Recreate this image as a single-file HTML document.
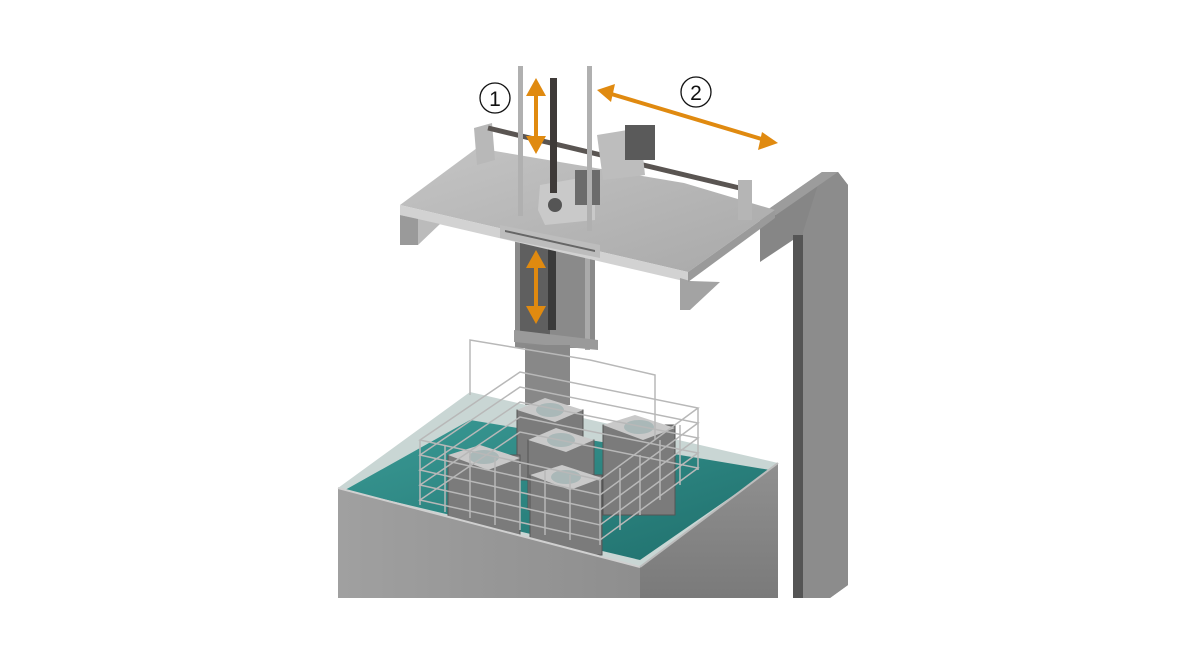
<!DOCTYPE html>
<html><head><meta charset="utf-8"><style>
html,body{margin:0;padding:0;background:#fff;}
svg{display:block;}
</style></head><body>
<svg width="1184" height="666" viewBox="0 0 1184 666" xmlns="http://www.w3.org/2000/svg" font-family="Liberation Sans, sans-serif">
<defs>
<linearGradient id="tf" x1="0" x2="1"><stop offset="0" stop-color="#a0a0a0"/><stop offset="1" stop-color="#8e8e8e"/></linearGradient>
<linearGradient id="rf" x1="0" x2="0" y1="0" y2="1"><stop offset="0" stop-color="#909090"/><stop offset="1" stop-color="#7a7a7a"/></linearGradient>
<linearGradient id="wt" x1="0" x2="1" y1="0" y2="1"><stop offset="0" stop-color="#3a9a95"/><stop offset="1" stop-color="#1f6f6c"/></linearGradient>
<linearGradient id="pl" x1="0" x2="1" y1="0" y2="1"><stop offset="0" stop-color="#c4c4c4"/><stop offset="1" stop-color="#a9a9a9"/></linearGradient>
</defs>
<!-- right frame -->
<polygon points="760,215 822,172 838,172 848,185 848,585 830,598 793,598 793,240 760,262" fill="#868686"/>
<polygon points="822,172 838,172 848,185 848,585 830,598 803,598 803,232" fill="#8c8c8c"/>
<rect x="793" y="235" width="10" height="363" fill="#555"/>
<polygon points="760,215 822,172 838,172 776,215" fill="#9c9c9c"/>
<!-- column -->
<rect x="515" y="230" width="80" height="118" fill="#8a8a8a"/>
<rect x="520" y="235" width="30" height="100" fill="#5f5f5f"/>
<rect x="548" y="235" width="8" height="95" fill="#3a3a3a"/>
<rect x="585" y="230" width="5" height="120" fill="#aaa"/>
<polygon points="514,330 598,340 598,350 514,342" fill="#9a9a9a"/>
<rect x="525" y="345" width="45" height="60" fill="#888"/>
<!-- platform -->
<polygon points="400,205 477,148 684,183 775,210 688,272" fill="url(#pl)"/>
<polygon points="400,205 688,272 688,282 400,215" fill="#d2d2d2"/>
<polygon points="400,215 418,219 418,245 400,245" fill="#9a9a9a"/>
<polygon points="418,219 440,224 418,245" fill="#bbb"/>
<polygon points="680,278 690,281 720,282 690,310 680,310" fill="#a3a3a3"/>
<polygon points="688,272 775,210 775,218 688,282" fill="#9a9a9a"/>
<polygon points="500,225 600,245 600,258 500,238" fill="#bdbdbd"/>
<polygon points="505,230 595,250 595,252 505,232" fill="#666"/>
<!-- back rail -->
<polygon points="474,128 492,123 495,160 477,165" fill="#b8b8b8"/>
<line x1="488" y1="128" x2="748" y2="190" stroke="#5a5552" stroke-width="5"/>
<rect x="738" y="180" width="14" height="40" fill="#b5b5b5"/>
<!-- carriage -->
<polygon points="540,185 580,178 595,190 595,220 545,225 538,210" fill="#c9c9c9"/>
<circle cx="555" cy="205" r="7" fill="#555"/>
<rect x="575" y="170" width="25" height="35" fill="#6b6b6b"/>
<polygon points="597,135 640,128 645,175 603,180" fill="#bdbdbd"/>
<rect x="625" y="125" width="30" height="35" fill="#5a5a5a"/>
<!-- rods -->
<rect x="518" y="66" width="5" height="150" fill="#b0b0b0"/>
<rect x="587" y="66" width="5" height="165" fill="#b0b0b0"/>
<rect x="550" y="78" width="7" height="115" fill="#3e3a38"/>
<!-- tank back/interior -->
<polygon points="338,488 470,392 778,463 640,567" fill="#c9d6d4"/>
<polygon points="345,490 470,420 770,470 640,560" fill="url(#wt)"/>
<!-- cylinders -->
<g fill="#7b7b7b" stroke="#555" stroke-width="1">
<rect x="517" y="410" width="66" height="70"/>
<rect x="528" y="440" width="66" height="70"/>
<rect x="603" y="425" width="72" height="90"/>
<rect x="448" y="455" width="72" height="90"/>
<rect x="530" y="475" width="72" height="80"/>
</g>
<g fill="#c9c9c9">
<polygon points="517,410 545,398 583,410 555,422"/>
<polygon points="528,440 556,428 594,440 566,452"/>
<polygon points="603,425 635,415 675,428 643,440"/>
<polygon points="448,455 480,445 520,458 488,470"/>
<polygon points="530,475 562,465 602,478 570,490"/>
</g>
<g fill="#aab8b8">
<ellipse cx="550" cy="410" rx="14" ry="7"/><ellipse cx="561" cy="440" rx="14" ry="7"/>
<ellipse cx="639" cy="427" rx="15" ry="7"/><ellipse cx="484" cy="457" rx="15" ry="7"/><ellipse cx="566" cy="477" rx="15" ry="7"/>
</g>
<!-- basket -->
<g fill="none" stroke="#b8b8b8" stroke-width="1.5">
<polyline points="470,395 470,340 590,360 655,375 655,440"/>
<polygon points="420,440 520,372 698,408 600,480"/>
<polygon points="420,455 520,387 698,423 600,495"/>
<polygon points="420,470 520,402 698,438 600,510"/>
<polygon points="420,485 520,417 698,453 600,525"/>
<polygon points="420,500 520,432 698,468 600,540"/>
<line x1="420" y1="440" x2="420" y2="505"/><line x1="600" y1="480" x2="600" y2="545"/>
<line x1="698" y1="408" x2="698" y2="470"/>
<line x1="445" y1="445" x2="445" y2="512"/><line x1="470" y1="452" x2="470" y2="518"/>
<line x1="495" y1="458" x2="495" y2="525"/><line x1="520" y1="464" x2="520" y2="530"/>
<line x1="545" y1="470" x2="545" y2="535"/><line x1="570" y1="475" x2="570" y2="540"/>
<line x1="620" y1="468" x2="620" y2="530"/><line x1="640" y1="455" x2="640" y2="515"/>
<line x1="660" y1="440" x2="660" y2="500"/><line x1="680" y1="425" x2="680" y2="485"/>
</g>
<!-- tank walls -->
<polygon points="338,488 640,567 640,598 338,598" fill="url(#tf)"/>
<polygon points="640,567 778,463 778,598 640,598" fill="url(#rf)"/>
<line x1="338" y1="488" x2="640" y2="567" stroke="#d0d0d0" stroke-width="2"/>
<line x1="640" y1="567" x2="778" y2="463" stroke="#bdbdbd" stroke-width="2"/>
<!-- arrows -->
<g fill="#e08a10" stroke="#e08a10">
<line x1="536" y1="90" x2="536" y2="142" stroke-width="4"/>
<polygon points="526,96 536,78 546,96" stroke="none"/>
<polygon points="526,136 536,154 546,136" stroke="none"/>
<line x1="536" y1="262" x2="536" y2="312" stroke-width="4"/>
<polygon points="526,268 536,250 546,268" stroke="none"/>
<polygon points="526,306 536,324 546,306" stroke="none"/>
<line x1="608" y1="93" x2="765" y2="140" stroke-width="4"/>
<polygon points="597,90 615,84 611,102" stroke="none"/>
<polygon points="778,143 758,150 762,132" stroke="none"/>
</g>
<!-- labels -->
<circle cx="495" cy="98" r="15" fill="#fff" stroke="#111" stroke-width="1.3"/>
<text x="495" y="106" text-anchor="middle" font-size="21" fill="#111">1</text>
<circle cx="696" cy="92" r="15" fill="#fff" stroke="#111" stroke-width="1.3"/>
<text x="696" y="100" text-anchor="middle" font-size="21" fill="#111">2</text>
</svg>
</body></html>
